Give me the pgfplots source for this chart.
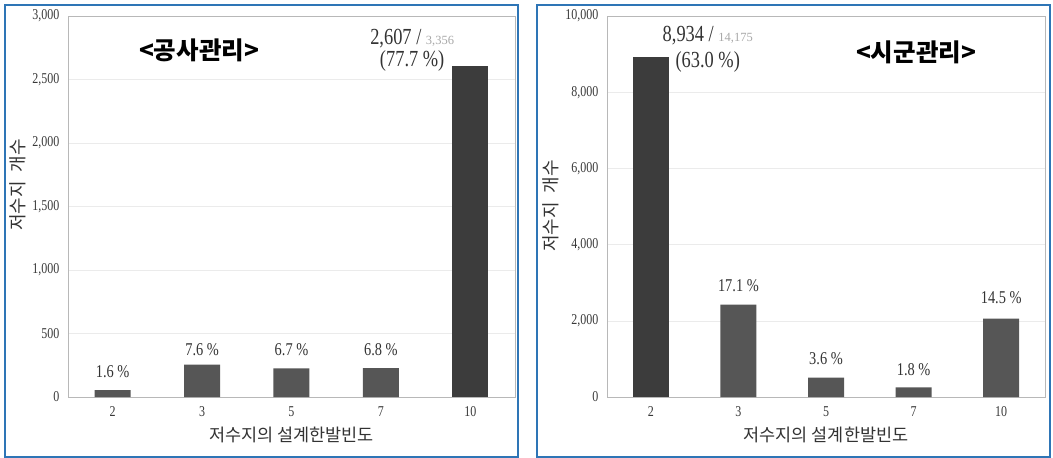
\documentclass[border=0pt]{standalone}
\usepackage{fontspec}
\usepackage{pgfplots}
\pgfplotsset{compat=1.18}
\setmainfont{Liberation Serif}
\newfontfamily\numfont[FakeStretch=0.8]{Liberation Serif}
\newfontfamily\kr{Noto Sans CJK KR}
\definecolor{frameblue}{HTML}{2E75B6}
\definecolor{bardark}{HTML}{3C3C3C}
\definecolor{barmid}{HTML}{565656}
\definecolor{txt}{HTML}{333333}
\definecolor{totgray}{HTML}{A8A8A8}

\pgfplotsset{
  panel/.style={
    anchor=south west, scale only axis, height=381bp,
    xmin=-0.5, xmax=4.5, ymin=0,
    xtick={0,...,4}, xticklabels={2,3,5,7,10},
    major tick length=0pt,
    axis line style={draw=black!28},
    ymajorgrids, grid style={draw=black!8},
    scaled y ticks=false,
    /pgf/number format/1000 sep={,},
    /pgf/number format/assume math mode=true,
    tick label style={font=\numfont\fontsize{15bp}{17bp}\selectfont, text=black!78},
    yticklabel style={xshift=-5bp},
    xticklabel style={yshift=-6bp},
    xlabel={저수지의 설계한발빈도},
    xlabel style={at={(axis description cs:0.5,0)}, anchor=center, yshift=-38bp,
      font=\kr\fontsize{17.5bp}{19bp}\selectfont, text=txt},
    ybar, bar width=36bp,
    clip=false,
  },
}
\tikzset{
  pct/.style={anchor=base, font=\numfont\fontsize{18bp}{20bp}\selectfont, text=txt},
  big/.style={anchor=base, font=\numfont\fontsize{23bp}{25bp}\selectfont, text=txt},
  ylab/.style={rotate=90, font=\kr\fontsize{18bp}{20bp}\selectfont, text=txt},
  ttl/.style={font=\kr\bfseries\fontsize{24.5bp}{26bp}\selectfont},
}

\begin{document}
\begin{tikzpicture}
\path[use as bounding box] (0,0) rectangle (1053bp,458bp);

% Panel 1: reservoirs managed by the corporation
\begin{axis}[panel, at={(68bp,61bp)}, width=447bp, ymax=3000, ytick={0,500,...,3000}]
  \addplot[fill=barmid, draw=none, bar shift=0pt] coordinates {(0,54) (1,255) (2,225) (3,228)};
  \addplot[fill=bardark, draw=none, bar shift=0pt] coordinates {(4,2607)};
  \node[pct] at (axis cs:0,157) {1.6 \%};
  \node[pct] at (axis cs:1,323) {7.6 \%};
  \node[pct] at (axis cs:2,323) {6.7 \%};
  \node[pct] at (axis cs:3,323) {6.8 \%};
  \node[big] at (axis cs:3.35,2772) {2,607 / {\fontspec{Liberation Serif}\fontsize{12.5bp}{14bp}\selectfont\color{totgray}3,356}};
  \node[big] at (axis cs:3.35,2600) {(77.7 \%)};
\end{axis}

% Panel 2: reservoirs managed by cities and counties
\begin{axis}[panel, at={(607bp,61bp)}, width=438bp, ymax=10000, ytick={0,2000,...,10000}]
  \addplot[fill=bardark, draw=none, bar shift=0pt] coordinates {(0,8934)};
  \addplot[fill=barmid, draw=none, bar shift=0pt] coordinates {(1,2424) (2,510) (3,255) (4,2055)};
  \node[pct] at (axis cs:1,2756) {17.1 \%};
  \node[pct] at (axis cs:2,840) {3.6 \%};
  \node[pct] at (axis cs:3,577) {1.8 \%};
  \node[pct] at (axis cs:4,2467) {14.5 \%};
  \node[big] at (axis cs:0.65,9318) {8,934 / {\fontspec{Liberation Serif}\fontsize{12.5bp}{14bp}\selectfont\color{totgray}14,175}};
  \node[big] at (axis cs:0.65,8661) {(63.0 \%)};
\end{axis}

% titles and vertical axis labels
\node[ttl] at (199bp,408bp) {<공사관리>};
\node[ttl] at (916bp,406bp) {<시군관리>};
\node[ylab] at (18bp,273bp) {저수지\hspace{9bp}개수};
\node[ylab] at (551bp,252bp) {저수지\hspace{9bp}개수};

% blue panel frames
\draw[frameblue, line width=2bp] (5bp,1bp) rectangle (518bp,453bp);
\draw[frameblue, line width=2bp] (537bp,1bp) rectangle (1050bp,453bp);
\end{tikzpicture}
\end{document}
